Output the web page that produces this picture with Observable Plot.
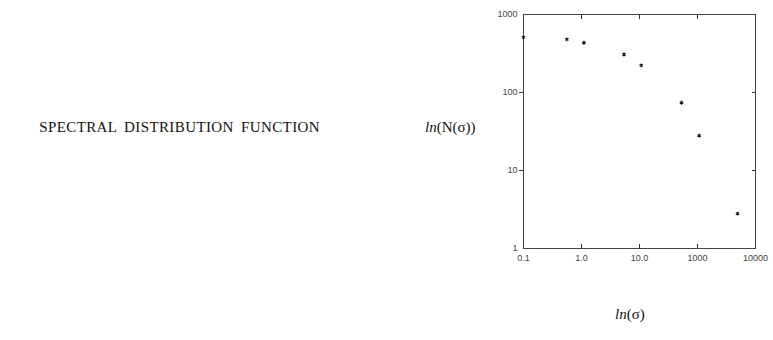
<!DOCTYPE html>
<html>
<head>
<meta charset="utf-8">
<script src="https://cdn.jsdelivr.net/npm/d3@7"></script>
<script src="https://cdn.jsdelivr.net/npm/@observablehq/plot@0.6"></script>
<style>
  html, body { margin: 0; padding: 0; background: #fff; }
  #wrap { position: relative; width: 773px; height: 340px; overflow: hidden; }
  .lbl { position: absolute; font-family: "Liberation Serif", "Times New Roman", serif; color: #111; white-space: nowrap; line-height: 1; }
  .lbl i { font-style: italic; }
</style>
</head>
<body>
<div id="wrap">
  <div class="lbl" id="title" style="right:453px; top:120px; font-size:15px; letter-spacing:0.4px; word-spacing:3px;">SPECTRAL DISTRIBUTION FUNCTION</div>
  <div class="lbl" id="ylab" style="left:425px; top:120px; font-size:15px;"><i>ln</i>(N(σ))</div>
  <div class="lbl" id="xlab" style="left:615px; top:307px; font-size:15px;"><i>ln</i>(σ)</div>
</div>
<script>
// Data
const sigma = [0.1, 0.56, 1.1, 5.4, 10.7, 53, 107, 490];
const N = [510, 480, 435, 307, 223, 74, 28, 2.8];

// Axis ticks and their printed labels
const xTicks = [0.1, 1, 10, 100, 1000];
const xTickLabels = ["0.1", "1.0", "10.0", "1000", "10000"];
const yTicks = [1, 10, 100, 1000];
const yTickLabels = ["1", "10", "100", "1000"];

const points = sigma.map((s, i) => ({sigma: s, N: N[i]}));
const fmtX = (d) => xTickLabels[xTicks.findIndex(t => Math.abs(Math.log10(t) - Math.log10(d)) < 1e-6)];
const fmtY = (d) => yTickLabels[yTicks.findIndex(t => Math.abs(Math.log10(t) - Math.log10(d)) < 1e-6)];
const blank = () => "";

const chart = Plot.plot({
  width: 773,
  height: 340,
  marginLeft: 523,
  marginRight: 18,
  marginTop: 14,
  marginBottom: 92,
  style: {background: "transparent", fontFamily: "'Liberation Sans', Arial, sans-serif", fontSize: "9px", color: "#333"},
  x: {type: "log", domain: [0.1, 1000]},
  y: {type: "log", domain: [1, 1000]},
  marks: [
    Plot.frame({stroke: "#444", strokeWidth: 1}),
    // bottom axis: labels, inward ticks
    Plot.axisX({anchor: "bottom", ticks: xTicks, tickSize: 0, tickPadding: 6, tickFormat: fmtX, label: null, fill: "#444"}),
    Plot.axisX({anchor: "bottom", ticks: xTicks.slice(1, 4), tickSize: 4, dy: -4, tickFormat: blank, label: null, stroke: "#333"}),
    // top axis: inward ticks
    Plot.axisX({anchor: "top", ticks: xTicks.slice(1, 4), tickSize: 4, dy: 4, tickFormat: blank, label: null, stroke: "#333"}),
    // left axis: labels, small outward ticks
    Plot.axisY({anchor: "left", ticks: yTicks, tickSize: 0, tickPadding: 6, tickFormat: fmtY, label: null, fill: "#444"}),
    Plot.axisY({anchor: "left", ticks: yTicks.slice(1, 3), tickSize: 4, tickFormat: blank, label: null, stroke: "#333"}),
    // right axis: inward ticks
    Plot.axisY({anchor: "right", ticks: yTicks.slice(1, 3), tickSize: 4, dx: -4, tickFormat: blank, label: null, stroke: "#333"}),
    Plot.dot(points, {x: "sigma", y: "N", symbol: "asterisk", r: 1.8, stroke: "#111", strokeWidth: 1.1})
  ]
});
chart.style.position = "absolute";
chart.style.left = "0px";
chart.style.top = "0px";
document.getElementById("wrap").prepend(chart);
</script>
</body>
</html>
